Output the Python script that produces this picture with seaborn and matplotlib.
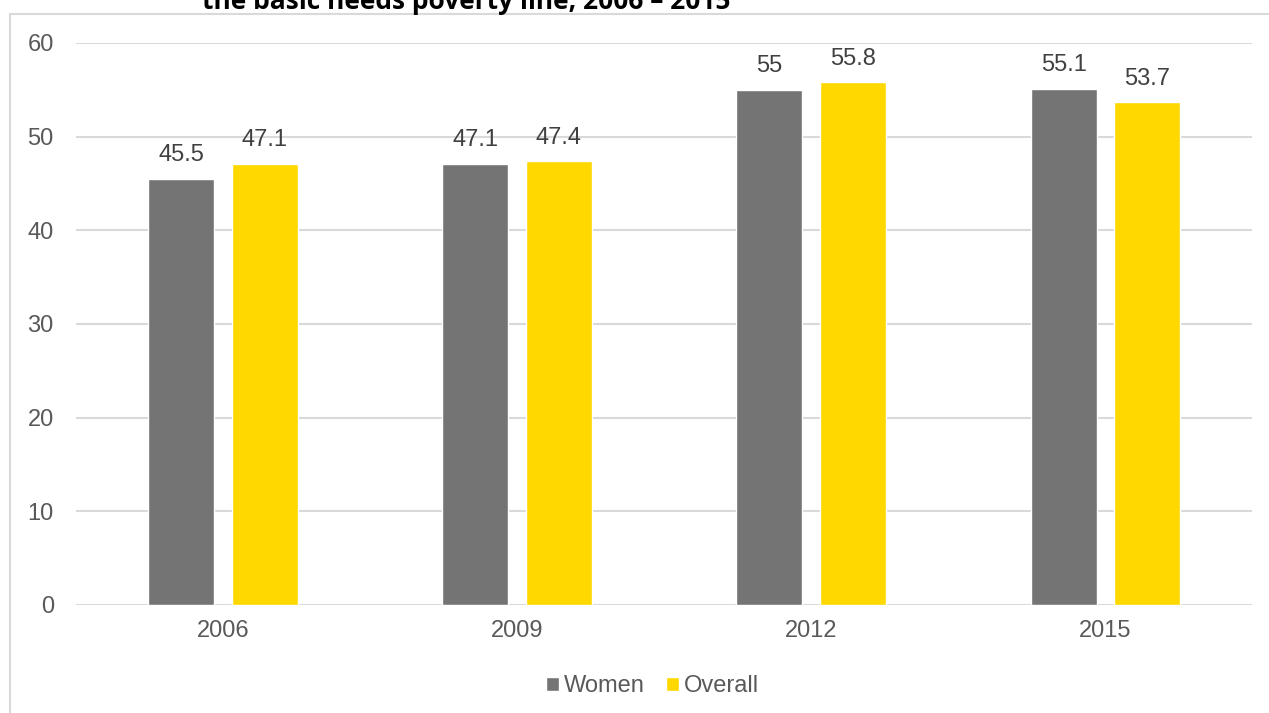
import pandas as pd
import matplotlib.pyplot as plt
import seaborn as sns
from matplotlib.patches import Rectangle

# data
years = ['2006', '2009', '2012', '2015']
women = [45.5, 47.1, 55.0, 55.1]
overall = [47.1, 47.4, 55.8, 53.7]
value_labels = {'Women': ['45.5', '47.1', '55', '55.1'],
                'Overall': ['47.1', '47.4', '55.8', '53.7']}

df = pd.DataFrame({
    'year': years * 2,
    'value': women + overall,
    'series': ['Women'] * 4 + ['Overall'] * 4,
})

sns.set_style('white')
plt.rcParams['font.family'] = ['Liberation Sans', 'DejaVu Sans']

fig = plt.figure(figsize=(12.69, 7.13), dpi=100)
ax = fig.add_axes([0.0599, 0.1515, 0.927, 0.7882])

palette = {'Women': '#747474', 'Overall': '#FFD800'}
sns.barplot(data=df, x='year', y='value', hue='series', palette=palette,
            width=0.568, gap=0.21, ax=ax, saturation=1, zorder=3)

for cont, name in zip(ax.containers, ['Women', 'Overall']):
    ax.bar_label(cont, labels=value_labels[name], padding=9,
                 fontsize=17, color='#404040')

ax.set_ylim(0, 60)
ax.set_yticks(range(0, 61, 10))
ax.yaxis.grid(True, color='#d9d9d9', linewidth=1.5, zorder=0)
ax.set_axisbelow(True)
for s in ax.spines.values():
    s.set_visible(False)
ax.tick_params(axis='both', length=0, labelsize=17, labelcolor='#595959')
ax.tick_params(axis='y', pad=16)
ax.tick_params(axis='x', pad=11)
ax.set_xlabel('')
ax.set_ylabel('')

leg = ax.legend(loc='center', bbox_to_anchor=(0.49, -0.145), ncol=2,
                frameon=False, fontsize=17, handlelength=0.55, handleheight=0.55,
                handletextpad=0.2, columnspacing=0.9, labelcolor='#595959',
                borderaxespad=0)

# chart frame and clipped title
fig.patches.append(Rectangle((10 / 1269, -0.1), 1.2, 1 - 14 / 713 + 0.1,
                             transform=fig.transFigure, fill=False,
                             edgecolor='#d9d9d9', linewidth=1.5))
fig.text(202 / 1269, 1 - 9 / 713, 'the basic needs poverty line, 2006 \u2013 2015',
         fontsize=19, fontweight='bold', family=['Open Sans', 'DejaVu Sans'],
         ha='left', va='baseline', color='black')

fig.savefig('out.png', dpi=100)
